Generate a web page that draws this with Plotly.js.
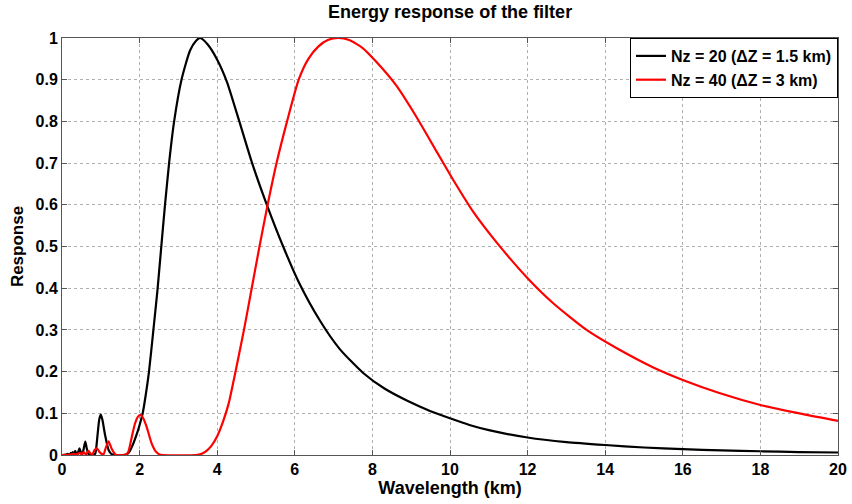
<!DOCTYPE html>
<html>
<head>
<meta charset="utf-8">
<script src="https://cdn.plot.ly/plotly-3.0.1.min.js"></script>
<style>html,body{margin:0;padding:0;background:#fff;}#chart{width:852px;height:504px;}</style>
</head>
<body>
<div id="chart"></div>
<script>
// Nz = 20 (black) — wavelength (km) and response
const blackWavelength = [0, 0.1, 0.15, 0.2, 0.23, 0.255, 0.28, 0.31, 0.34, 0.39, 0.42, 0.45, 0.48, 0.52, 0.56, 0.6, 0.64, 0.69, 0.75, 0.82, 0.86, 0.92, 0.96, 1.0, 1.04, 1.11, 1.2, 1.28, 1.4, 1.6, 1.7, 1.75, 1.84, 1.92, 2.0, 2.08, 2.16, 2.24, 2.35, 2.46, 2.55, 2.65, 2.76, 2.89, 3.08, 3.3, 3.45, 3.56, 3.75, 4.0, 4.25, 4.57, 4.9, 5.28, 5.7, 6.1, 6.65, 7.16, 7.77, 8.3, 8.9, 9.5, 10.0, 10.5, 11.03, 12.0, 13.0, 14.0, 15.0, 16.0, 17.0, 18.0, 19.0, 20.0];
const blackResponse = [0, 0.001, 0.003, 0.001, 0.005, 0.001, 0.007, 0.001, 0.010, 0.001, 0.008, 0.016, 0.008, 0.001, 0.015, 0.032, 0.015, 0.001, 0, 0, 0.004, 0.052, 0.085, 0.097, 0.085, 0.048, 0.012, 0.002, 0, 0, 0.004, 0.010, 0.028, 0.048, 0.072, 0.1, 0.145, 0.198, 0.295, 0.395, 0.49, 0.595, 0.7, 0.8, 0.9, 0.97, 0.993, 1.0, 0.985, 0.948, 0.895, 0.8, 0.7, 0.6, 0.5, 0.415, 0.322, 0.254, 0.196, 0.16, 0.13, 0.105, 0.088, 0.072, 0.059, 0.042, 0.031, 0.024, 0.018, 0.014, 0.011, 0.009, 0.007, 0.006];

// Nz = 40 (red)
const redWavelength = [0, 0.2, 0.3, 0.36, 0.41, 0.46, 0.51, 0.56, 0.62, 0.68, 0.74, 0.78, 0.84, 0.9, 0.96, 1.04, 1.08, 1.12, 1.2, 1.28, 1.38, 1.5, 1.65, 1.71, 1.8, 1.88, 1.96, 2.03, 2.1, 2.18, 2.31, 2.42, 2.5, 2.6, 3.45, 3.6, 3.7, 3.85, 4.0, 4.15, 4.3, 4.45, 4.69, 4.89, 5.09, 5.3, 5.53, 5.8, 6.1, 6.35, 6.61, 6.85, 7.12, 7.4, 7.75, 8.1, 8.6, 9.14, 9.66, 10.1, 10.6, 11.2, 12.0, 12.66, 13.52, 14.3, 15.24, 16.0, 16.96, 18.0, 19.1, 20.0];
const redResponse = [0, 0.001, 0.003, 0.001, 0.003, 0.005, 0.001, 0.007, 0.001, 0.010, 0.003, 0.001, 0.012, 0.016, 0.008, 0.002, 0.003, 0.015, 0.033, 0.015, 0.001, 0, 0.001, 0.008, 0.044, 0.075, 0.092, 0.096, 0.087, 0.068, 0.028, 0.008, 0.002, 0, 0, 0.003, 0.008, 0.022, 0.045, 0.08, 0.125, 0.19, 0.3, 0.4, 0.5, 0.6, 0.7, 0.8, 0.9, 0.95, 0.98, 0.995, 1.0, 0.995, 0.976, 0.943, 0.888, 0.81, 0.727, 0.657, 0.583, 0.51, 0.424, 0.364, 0.3, 0.256, 0.21, 0.18, 0.148, 0.12, 0.098, 0.082];

const seriesNames = ['Nz = 20 (\u0394Z = 1.5 km)', 'Nz = 40 (\u0394Z = 3 km)'];
const xTicks = [0, 2, 4, 6, 8, 10, 12, 14, 16, 18, 20];
const yTicks = [0, 0.1, 0.2, 0.3, 0.4, 0.5, 0.6, 0.7, 0.8, 0.9, 1];
const yTickText = ['0', '0.1', '0.2', '0.3', '0.4', '0.5', '0.6', '0.7', '0.8', '0.9', '1'];

const FONT = 'Liberation Sans, Arial, Helvetica, sans-serif';

const traces = [
  {x: blackWavelength, y: blackResponse, name: seriesNames[0], mode: 'lines',
   line: {color: '#000000', width: 2.2, shape: 'spline', smoothing: 0.6}},
  {x: redWavelength, y: redResponse, name: seriesNames[1], mode: 'lines',
   line: {color: '#ff0000', width: 2.2, shape: 'spline', smoothing: 0.6}}
];

const axisCommon = {
  showline: true, mirror: 'ticks', linecolor: '#555555', linewidth: 1,
  ticks: 'inside', ticklen: 5, tickcolor: '#555555',
  showgrid: true, gridcolor: '#b0b0b0', griddash: 'dot', gridwidth: 1,
  zeroline: false, automargin: false,
  tickfont: {family: FONT, size: 16, color: '#000', weight: 'bold'}
};

const layout = {
  width: 852, height: 504,
  paper_bgcolor: '#ffffff', plot_bgcolor: '#ffffff',
  margin: {l: 62, r: 14, t: 38, b: 49},
  showlegend: true,
  title: {text: 'Energy response of the filter', x: 0.5283, xanchor: 'center', y: 0.976, yanchor: 'middle',
          font: {family: FONT, size: 18, color: '#000', weight: 'bold'}},
  xaxis: Object.assign({}, axisCommon, {
    range: [0, 20], tickvals: xTicks, ticktext: xTicks.map(String),
    title: {text: 'Wavelength (km)', standoff: 3, font: {family: FONT, size: 18, color: '#000', weight: 'bold'}}
  }),
  yaxis: Object.assign({}, axisCommon, {
    range: [0, 1], tickvals: yTicks, ticktext: yTickText,
    title: {text: 'Response', standoff: 7, font: {family: FONT, size: 17, color: '#000', weight: 'bold'}}
  }),
  legend: {x: 1, xanchor: 'right', y: 1, yanchor: 'top', bgcolor: '#ffffff',
           bordercolor: '#000000', borderwidth: 1,
           font: {family: FONT, size: 16, color: '#000', weight: 'bold'},
           tracegroupgap: 0, itemwidth: 30}
};

Plotly.newPlot('chart', traces, layout, {staticPlot: true, displayModeBar: false});
</script>
</body>
</html>
